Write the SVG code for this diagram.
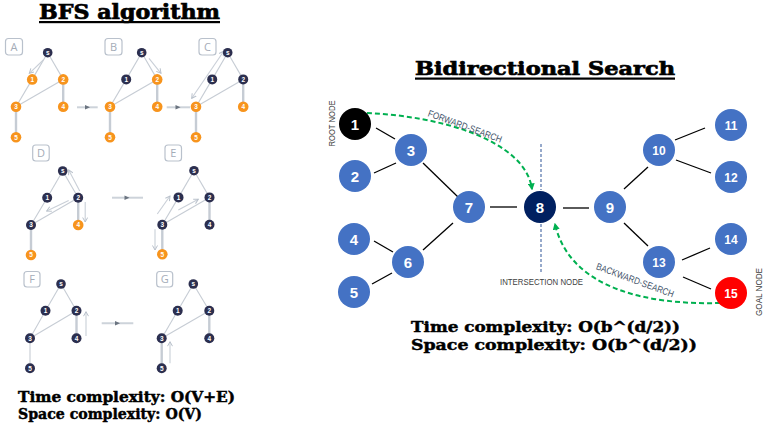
<svg xmlns="http://www.w3.org/2000/svg" width="767" height="429" viewBox="0 0 767 429">
<style>
.e{stroke:#c6ccd4;stroke-width:1.1;fill:none}
.ev{stroke:#c6ccd4;stroke-width:2.4;fill:none}
.tr{stroke:#c9cfd7;stroke-width:1.1;fill:none;marker-end:url(#chev)}
.dk{fill:#2c2f4f}
.or{fill:#f7941d}
.nl{font-family:"Liberation Sans",sans-serif;font-size:6.5px;font-weight:bold;fill:#fff;text-anchor:middle}
.lb{fill:#fff;stroke:#b9c1cc;stroke-width:1.2}
.lt{font-family:"Open Sans",sans-serif;font-size:11px;fill:#a4acb7;text-anchor:middle}
.pa{stroke:#cdd3da;stroke-width:2}
.ph{fill:#6b7480}
.hd{font-family:"DejaVu Serif",serif;font-weight:bold;fill:#000;stroke:#000;stroke-width:0.7}
.cx{font-family:"DejaVu Serif",serif;font-weight:bold;fill:#000;stroke:#000;stroke-width:0.45}
.ed{stroke:#000;stroke-width:1.3}
.bn{fill:#4472c4}
.num{font-family:"Liberation Sans",sans-serif;font-weight:bold;fill:#fff;text-anchor:middle}
.n1{font-size:15px}
.n2{font-size:12px}
.sm{font-family:"Liberation Sans",sans-serif;font-size:8.5px;fill:#404040}
.sl{font-family:"Liberation Sans",sans-serif;font-size:9.5px;fill:#44546a}
.gd{stroke:#00b050;stroke-width:2;stroke-dasharray:5,3;fill:none;marker-end:url(#garr)}
</style>
<defs>
<marker id="chev" viewBox="0 0 6 6" refX="5" refY="3" markerWidth="6" markerHeight="6" markerUnits="userSpaceOnUse" orient="auto-start-reverse"><path d="M0.5,0.5 L5,3 L0.5,5.5" fill="none" stroke="#b9c1cb" stroke-width="1"/></marker>
<marker id="garr" viewBox="0 0 10 10" refX="8" refY="5" markerWidth="7" markerHeight="7" markerUnits="userSpaceOnUse" orient="auto"><path d="M0,0 L10,5 L0,10 z" fill="#00b050"/></marker>
</defs>
<rect width="767" height="429" fill="#fff"/>

<!-- BFS title -->
<g id="title-bfs">
<text class="hd" x="39" y="19" font-size="20" textLength="181" lengthAdjust="spacingAndGlyphs">BFS algorithm</text>
<rect x="39" y="21" width="181" height="2.2" fill="#000"/>
</g>

<!-- panel arrows -->
<g id="panel-arrows">
<line class="pa" x1="77" y1="107.3" x2="97.7" y2="107.3"/><path class="ph" d="M85,105 L90,107.3 L85,109.6z"/>
<line class="pa" x1="166.7" y1="107.3" x2="190" y2="107.3"/><path class="ph" d="M175.5,105 L180.5,107.3 L175.5,109.6z"/>
<line class="pa" x1="112" y1="197.7" x2="143" y2="197.7"/><path class="ph" d="M124.5,195.4 L129.5,197.7 L124.5,200z"/>
<line class="pa" x1="101.7" y1="323.3" x2="133.3" y2="323.3"/><path class="ph" d="M115,321 L120,323.3 L115,325.6z"/>
</g>

<!-- label boxes -->
<g id="panel-labels">
<rect class="lb" x="5.5" y="38.5" width="17" height="16.5" rx="3"/><text class="lt" x="14" y="51">A</text>
<rect class="lb" x="105" y="38.5" width="17" height="16.5" rx="3"/><text class="lt" x="113.5" y="51">B</text>
<rect class="lb" x="199" y="38.5" width="17" height="16.5" rx="3"/><text class="lt" x="207.5" y="51">C</text>
<rect class="lb" x="32.7" y="145" width="16.5" height="16" rx="3"/><text class="lt" x="41" y="157">D</text>
<rect class="lb" x="165" y="145" width="16.5" height="16" rx="3"/><text class="lt" x="173.3" y="157">E</text>
<rect class="lb" x="24" y="271.5" width="16" height="15.5" rx="3"/><text class="lt" x="32" y="283.3">F</text>
<rect class="lb" x="156.7" y="271.5" width="16" height="15.5" rx="3"/><text class="lt" x="164.7" y="283.3">G</text>
</g>

<!-- Panel A -->
<g id="bfs-A" transform="translate(47.7,52.7)">
<line class="e" x1="0" y1="0" x2="-15.5" y2="26.7"/><line class="e" x1="0" y1="0" x2="15.5" y2="26.7"/>
<line class="e" x1="-15.5" y1="26.7" x2="-31.7" y2="54"/><line class="e" x1="15.5" y1="26.7" x2="-31.7" y2="54"/>
<line class="ev" x1="15.5" y1="26.7" x2="15.5" y2="54"/><line class="ev" x1="-31.7" y1="54" x2="-31.7" y2="84.6"/>
<line class="tr" x1="-4.4" y1="7.3" x2="-18.4" y2="20.6"/>
<circle class="dk" cx="0" cy="0" r="4.8"/><text class="nl" x="0" y="2.3">s</text>
<circle class="or" cx="-15.5" cy="26.7" r="5.3"/><text class="nl" x="-15.5" y="29">1</text>
<circle class="or" cx="15.5" cy="26.7" r="5.3"/><text class="nl" x="15.5" y="29">2</text>
<circle class="or" cx="-31.7" cy="54" r="5.3"/><text class="nl" x="-31.7" y="56.3">3</text>
<circle class="or" cx="15.5" cy="54" r="5.3"/><text class="nl" x="15.5" y="56.3">4</text>
<circle class="or" cx="-31.7" cy="84.6" r="5.3"/><text class="nl" x="-31.7" y="86.9">5</text>
</g>

<!-- Panel B -->
<g id="bfs-B" transform="translate(141.7,52.7)">
<line class="e" x1="0" y1="0" x2="-15.5" y2="26.7"/><line class="e" x1="0" y1="0" x2="15.5" y2="26.7"/>
<line class="e" x1="-15.5" y1="26.7" x2="-31.7" y2="54"/><line class="e" x1="15.5" y1="26.7" x2="-31.7" y2="54"/>
<line class="ev" x1="15.5" y1="26.7" x2="15.5" y2="54"/><line class="ev" x1="-31.7" y1="54" x2="-31.7" y2="84.6"/>
<line class="tr" x1="7.3" y1="5.6" x2="19.3" y2="20.6"/>
<circle class="dk" cx="0" cy="0" r="4.8"/><text class="nl" x="0" y="2.3">s</text>
<circle class="dk" cx="-15.5" cy="26.7" r="5"/><text class="nl" x="-15.5" y="29">1</text>
<circle class="or" cx="15.5" cy="26.7" r="5.3"/><text class="nl" x="15.5" y="29">2</text>
<circle class="or" cx="-31.7" cy="54" r="5.3"/><text class="nl" x="-31.7" y="56.3">3</text>
<circle class="or" cx="15.5" cy="54" r="5.3"/><text class="nl" x="15.5" y="56.3">4</text>
<circle class="or" cx="-31.7" cy="84.6" r="5.3"/><text class="nl" x="-31.7" y="86.9">5</text>
</g>

<!-- Panel C -->
<g id="bfs-C" transform="translate(227.7,52.7)">
<line class="e" x1="0" y1="0" x2="-15.5" y2="26.7"/><line class="e" x1="0" y1="0" x2="15.5" y2="26.7"/>
<line class="e" x1="-15.5" y1="26.7" x2="-31.7" y2="54"/><line class="e" x1="15.5" y1="26.7" x2="-31.7" y2="54"/>
<line class="ev" x1="15.5" y1="26.7" x2="15.5" y2="54"/><line class="ev" x1="-31.7" y1="54" x2="-31.7" y2="84.6"/>
<line class="tr" x1="-36" y1="45.6" x2="-4" y2="-1.5" marker-start="url(#chev)"/>
<circle class="dk" cx="0" cy="0" r="4.8"/><text class="nl" x="0" y="2.3">s</text>
<circle class="dk" cx="-15.5" cy="26.7" r="5"/><text class="nl" x="-15.5" y="29">1</text>
<circle class="dk" cx="15.5" cy="26.7" r="5"/><text class="nl" x="15.5" y="29">2</text>
<circle class="or" cx="-31.7" cy="54" r="5.3"/><text class="nl" x="-31.7" y="56.3">3</text>
<circle class="or" cx="15.5" cy="54" r="5.3"/><text class="nl" x="15.5" y="56.3">4</text>
<circle class="or" cx="-31.7" cy="84.6" r="5.3"/><text class="nl" x="-31.7" y="86.9">5</text>
</g>

<!-- Panel D -->
<g id="bfs-D" transform="translate(62.7,171)">
<line class="e" x1="0" y1="0" x2="-15.5" y2="26.7"/><line class="e" x1="0" y1="0" x2="15.5" y2="26.7"/>
<line class="e" x1="-15.5" y1="26.7" x2="-31.7" y2="54"/><line class="e" x1="15.5" y1="26.7" x2="-31.7" y2="54"/>
<line class="ev" x1="15.5" y1="26.7" x2="15.5" y2="54"/><line class="ev" x1="-31.7" y1="54" x2="-31.7" y2="84"/>
<line class="tr" x1="17" y1="20" x2="6" y2="-1"/>
<line class="tr" x1="22.5" y1="31" x2="22.5" y2="51"/>
<line class="tr" x1="6" y1="29.5" x2="-16" y2="40"/>
<circle class="dk" cx="0" cy="0" r="4.8"/><text class="nl" x="0" y="2.3">s</text>
<circle class="dk" cx="-15.5" cy="26.7" r="5"/><text class="nl" x="-15.5" y="29">1</text>
<circle class="dk" cx="15.5" cy="26.7" r="5"/><text class="nl" x="15.5" y="29">2</text>
<circle class="dk" cx="-31.7" cy="54" r="5"/><text class="nl" x="-31.7" y="56.3">3</text>
<circle class="or" cx="15.5" cy="54" r="5.3"/><text class="nl" x="15.5" y="56.3">4</text>
<circle class="or" cx="-31.7" cy="84" r="5.3"/><text class="nl" x="-31.7" y="86.3">5</text>
</g>

<!-- Panel E -->
<g id="bfs-E" transform="translate(194,170.7)">
<line class="e" x1="0" y1="0" x2="-15.5" y2="26.7"/><line class="e" x1="0" y1="0" x2="15.5" y2="26.7"/>
<line class="e" x1="-15.5" y1="26.7" x2="-31.7" y2="54"/><line class="e" x1="15.5" y1="26.7" x2="-31.7" y2="54"/>
<line class="ev" x1="15.5" y1="26.7" x2="15.5" y2="54"/><line class="ev" x1="-31.7" y1="54" x2="-31.7" y2="83.6"/>
<line class="tr" x1="-36.7" y1="43.3" x2="-24" y2="25.3"/>
<line class="tr" x1="-15.7" y1="39.3" x2="4.3" y2="28.6"/>
<line class="tr" x1="-39" y1="58.6" x2="-39" y2="79.3"/>
<circle class="dk" cx="0" cy="0" r="4.8"/><text class="nl" x="0" y="2.3">s</text>
<circle class="dk" cx="-15.5" cy="26.7" r="5"/><text class="nl" x="-15.5" y="29">1</text>
<circle class="dk" cx="15.5" cy="26.7" r="5"/><text class="nl" x="15.5" y="29">2</text>
<circle class="dk" cx="-31.7" cy="54" r="5"/><text class="nl" x="-31.7" y="56.3">3</text>
<circle class="dk" cx="15.5" cy="54" r="5"/><text class="nl" x="15.5" y="56.3">4</text>
<circle class="or" cx="-31.7" cy="83.6" r="5.3"/><text class="nl" x="-31.7" y="85.9">5</text>
</g>

<!-- Panel F -->
<g id="bfs-F" transform="translate(61,284)">
<line class="e" x1="0" y1="0" x2="-15.5" y2="26.7"/><line class="e" x1="0" y1="0" x2="15.5" y2="26.7"/>
<line class="e" x1="-15.5" y1="26.7" x2="-31" y2="54.3"/><line class="e" x1="15.5" y1="26.7" x2="-31" y2="54.3"/>
<line class="ev" x1="15.5" y1="26.7" x2="15.5" y2="54.3"/><line class="e" x1="-31" y1="54.3" x2="-31" y2="84.3"/>
<line class="tr" x1="25" y1="52" x2="25" y2="27.7"/>
<circle class="dk" cx="0" cy="0" r="4.8"/><text class="nl" x="0" y="2.3">s</text>
<circle class="dk" cx="-15.5" cy="26.7" r="5"/><text class="nl" x="-15.5" y="29">1</text>
<circle class="dk" cx="15.5" cy="26.7" r="5"/><text class="nl" x="15.5" y="29">2</text>
<circle class="dk" cx="-31" cy="54.3" r="5"/><text class="nl" x="-31" y="56.6">3</text>
<circle class="dk" cx="15.5" cy="54.3" r="5"/><text class="nl" x="15.5" y="56.6">4</text>
<circle class="dk" cx="-31" cy="84.3" r="5"/><text class="nl" x="-31" y="86.6">5</text>
</g>

<!-- Panel G -->
<g id="bfs-G" transform="translate(193.3,284)">
<line class="e" x1="0" y1="0" x2="-15.6" y2="26.7"/><line class="e" x1="0" y1="0" x2="16" y2="26.7"/>
<line class="e" x1="-15.6" y1="26.7" x2="-31.6" y2="54.3"/><line class="e" x1="16" y1="26.7" x2="-31.6" y2="54.3"/>
<line class="ev" x1="16" y1="26.7" x2="16" y2="54.3"/><line class="ev" x1="-31.6" y1="54.3" x2="-31.6" y2="84.3"/>
<line class="tr" x1="-23.3" y1="79.3" x2="-23.3" y2="57.7"/>
<circle class="dk" cx="0" cy="0" r="4.8"/><text class="nl" x="0" y="2.3">s</text>
<circle class="dk" cx="-15.6" cy="26.7" r="5"/><text class="nl" x="-15.6" y="29">1</text>
<circle class="dk" cx="16" cy="26.7" r="5"/><text class="nl" x="16" y="29">2</text>
<circle class="dk" cx="-31.6" cy="54.3" r="5"/><text class="nl" x="-31.6" y="56.6">3</text>
<circle class="dk" cx="16" cy="54.3" r="5"/><text class="nl" x="16" y="56.6">4</text>
<circle class="dk" cx="-31.6" cy="84.3" r="5"/><text class="nl" x="-31.6" y="86.6">5</text>
</g>

<g id="bfs-complexity">
<text class="cx" x="18" y="402" font-size="14" textLength="217" lengthAdjust="spacingAndGlyphs">Time complexity: O(V+E)</text>
<text class="cx" x="18" y="418.5" font-size="14" textLength="184" lengthAdjust="spacingAndGlyphs">Space complexity: O(V)</text>
</g>

<!-- Bidirectional -->
<g id="title-bidir">
<text class="hd" x="415" y="75" font-size="19" textLength="260" lengthAdjust="spacingAndGlyphs">Bidirectional Search</text>
<rect x="415" y="77.5" width="260" height="2.2" fill="#000"/>
</g>

<g id="connectors">
<line class="ed" x1="376" y1="128" x2="395" y2="139"/>
<line class="ed" x1="374" y1="173" x2="396" y2="163"/>
<line class="ed" x1="423" y1="163" x2="458" y2="197"/>
<line class="ed" x1="490" y1="207" x2="517" y2="207"/>
<line class="ed" x1="563" y1="208" x2="589" y2="208"/>
<line class="ed" x1="624" y1="189" x2="648" y2="167"/>
<line class="ed" x1="675" y1="140" x2="705" y2="128"/>
<line class="ed" x1="676" y1="160" x2="711" y2="173"/>
<line class="ed" x1="624" y1="223" x2="648" y2="246"/>
<line class="ed" x1="682" y1="260" x2="710" y2="248"/>
<line class="ed" x1="683" y1="277" x2="711" y2="289"/>
<line class="ed" x1="423" y1="250" x2="453" y2="223"/>
<line class="ed" x1="374" y1="241" x2="393" y2="252"/>
<line class="ed" x1="372" y1="284" x2="392" y2="273"/>
<line x1="541" y1="144" x2="541" y2="190" stroke="#2f5597" stroke-width="1" stroke-dasharray="3,2"/>
<line x1="541" y1="224" x2="541" y2="272" stroke="#2f5597" stroke-width="1" stroke-dasharray="3,2"/>
<path class="gd" d="M367,113 C440,116 525,140 532,189"/>
<path class="gd" d="M720,303 C650,305 570,290 555,224"/>
<text class="sl" transform="translate(465,126.5) rotate(20)" x="0" y="3" text-anchor="middle" textLength="78" lengthAdjust="spacingAndGlyphs">FORWARD-SEARCH</text>
<text class="sl" transform="translate(635,280.5) rotate(20.3)" x="0" y="3" text-anchor="middle" textLength="82" lengthAdjust="spacingAndGlyphs">BACKWARD-SEARCH</text>
</g>

<g id="labels">
<text class="sm" transform="translate(335,123.5) rotate(-90)" text-anchor="middle" textLength="46" lengthAdjust="spacingAndGlyphs">ROOT NODE</text>
<text class="sm" transform="translate(762,292) rotate(-90)" text-anchor="middle" textLength="48" lengthAdjust="spacingAndGlyphs">GOAL NODE</text>
<text class="sm" x="541.5" y="285" text-anchor="middle" textLength="83" lengthAdjust="spacingAndGlyphs">INTERSECTION NODE</text>
</g>

<g id="node-1"><circle cx="355" cy="124" r="16" fill="#000"/><text class="num n1" x="355" y="129.5">1</text></g>
<g id="node-2"><circle class="bn" cx="355" cy="176" r="16"/><text class="num n1" x="355" y="181.5">2</text></g>
<g id="node-3"><circle class="bn" cx="411" cy="150" r="16"/><text class="num n1" x="411" y="155.5">3</text></g>
<g id="node-4"><circle class="bn" cx="354" cy="239" r="16"/><text class="num n1" x="354" y="244.5">4</text></g>
<g id="node-5"><circle class="bn" cx="354" cy="292" r="16"/><text class="num n1" x="354" y="297.5">5</text></g>
<g id="node-6"><circle class="bn" cx="408" cy="262" r="16"/><text class="num n1" x="408" y="267.5">6</text></g>
<g id="node-7"><circle class="bn" cx="469" cy="207" r="16"/><text class="num n1" x="469" y="212.5">7</text></g>
<g id="node-8"><circle cx="540" cy="207" r="16" fill="#002060"/><text class="num n1" x="540" y="212.5">8</text></g>
<g id="node-9"><circle class="bn" cx="610" cy="207" r="16"/><text class="num n1" x="610" y="212.5">9</text></g>
<g id="node-10"><circle class="bn" cx="659" cy="150" r="16"/><text class="num n2" x="659" y="154.5">10</text></g>
<g id="node-11"><circle class="bn" cx="731" cy="125" r="16"/><text class="num n2" x="731" y="129.5">11</text></g>
<g id="node-12"><circle class="bn" cx="731" cy="177" r="16"/><text class="num n2" x="731" y="181.5">12</text></g>
<g id="node-13"><circle class="bn" cx="659" cy="262" r="16"/><text class="num n2" x="659" y="266.5">13</text></g>
<g id="node-14"><circle class="bn" cx="731" cy="239" r="16"/><text class="num n2" x="731" y="243.5">14</text></g>
<g id="node-15"><circle cx="731" cy="293" r="16" fill="#ff0000"/><text class="num n2" x="731" y="297.5">15</text></g>

<g id="bidir-complexity">
<text class="cx" x="411" y="332" font-size="14.5" textLength="269" lengthAdjust="spacingAndGlyphs">Time complexity: O(b^(d/2))</text>
<text class="cx" x="411" y="350" font-size="14.5" textLength="286" lengthAdjust="spacingAndGlyphs">Space complexity: O(b^(d/2))</text>
</g>
</svg>
